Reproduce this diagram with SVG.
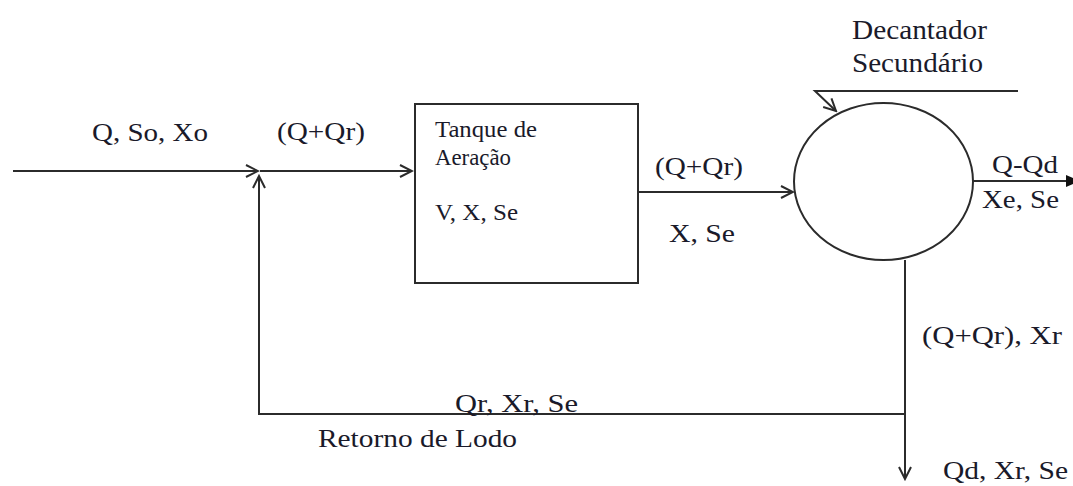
<svg xmlns="http://www.w3.org/2000/svg" width="1073" height="486" viewBox="0 0 1073 486">
<defs>
<marker id="open" markerUnits="userSpaceOnUse" markerWidth="16" markerHeight="16" viewBox="0 0 16 16" refX="14" refY="8" orient="auto">
<path d="M2,2 L14,8 L2,14" fill="none" stroke="#2b2b2b" stroke-width="2"/>
</marker>
</defs>
<rect width="1073" height="486" fill="#fff"/>
<g id="connectors" fill="none" stroke="#2b2b2b" stroke-width="2">
<path d="M13,171 H258" marker-end="url(#open)"/>
<path d="M260,171 H412" marker-end="url(#open)"/>
<path d="M905,414 H259 V176" marker-end="url(#open)"/>
<path d="M638,192 H793" marker-end="url(#open)"/>
<path d="M973,181 H1068"/>
<polygon points="1066,175 1080,181 1066,187" fill="#111" stroke="none"/>
<path d="M1018,91 H815 L836,111" marker-end="url(#open)"/>
<path d="M905,260 V479" marker-end="url(#open)"/>
</g>
<g id="tanque">
<rect x="415" y="104" width="223" height="179" fill="#fff" stroke="#2b2b2b" stroke-width="2"/>
<text x="435" y="137" font-family="Liberation Serif" font-size="23" fill="#1a1a2a" textLength="102" lengthAdjust="spacingAndGlyphs">Tanque de</text>
<text x="435" y="165" font-family="Liberation Serif" font-size="23" fill="#1a1a2a" textLength="76" lengthAdjust="spacingAndGlyphs">Aeração</text>
<text x="435" y="220" font-family="Liberation Serif" font-size="23" fill="#1a1a2a" textLength="83" lengthAdjust="spacingAndGlyphs">V, X, Se</text>
</g>
<g id="decantador">
<ellipse cx="883.5" cy="181.5" rx="89.5" ry="78.5" fill="#fff" stroke="#2b2b2b" stroke-width="2"/>
<text x="852" y="39" font-family="Liberation Serif" font-size="27" fill="#1a1a2a" textLength="135" lengthAdjust="spacingAndGlyphs">Decantador</text>
<text x="852" y="72" font-family="Liberation Serif" font-size="27" fill="#1a1a2a" textLength="131" lengthAdjust="spacingAndGlyphs">Secundário</text>
</g>
<g id="labels">
<text x="92" y="141" font-family="Liberation Serif" font-size="26" fill="#1a1a2a" textLength="116" lengthAdjust="spacingAndGlyphs">Q, So, Xo</text>
<text x="277" y="140" font-family="Liberation Serif" font-size="26" fill="#1a1a2a" textLength="88" lengthAdjust="spacingAndGlyphs">(Q+Qr)</text>
<text x="655" y="175" font-family="Liberation Serif" font-size="26" fill="#1a1a2a" textLength="88" lengthAdjust="spacingAndGlyphs">(Q+Qr)</text>
<text x="669" y="242" font-family="Liberation Serif" font-size="26" fill="#1a1a2a" textLength="66" lengthAdjust="spacingAndGlyphs">X, Se</text>
<text x="992" y="173" font-family="Liberation Serif" font-size="26" fill="#1a1a2a" textLength="66" lengthAdjust="spacingAndGlyphs">Q-Qd</text>
<text x="982" y="208" font-family="Liberation Serif" font-size="26" fill="#1a1a2a" textLength="77" lengthAdjust="spacingAndGlyphs">Xe, Se</text>
<text x="922" y="344" font-family="Liberation Serif" font-size="26" fill="#1a1a2a" textLength="140" lengthAdjust="spacingAndGlyphs">(Q+Qr), Xr</text>
<text x="455" y="412" font-family="Liberation Serif" font-size="26" fill="#1a1a2a" textLength="123" lengthAdjust="spacingAndGlyphs">Qr, Xr, Se</text>
<text x="318" y="447" font-family="Liberation Serif" font-size="26" fill="#1a1a2a" textLength="199" lengthAdjust="spacingAndGlyphs">Retorno de Lodo</text>
<text x="943" y="479" font-family="Liberation Serif" font-size="26" fill="#1a1a2a" textLength="125" lengthAdjust="spacingAndGlyphs">Qd, Xr, Se</text>
</g>
</svg>
